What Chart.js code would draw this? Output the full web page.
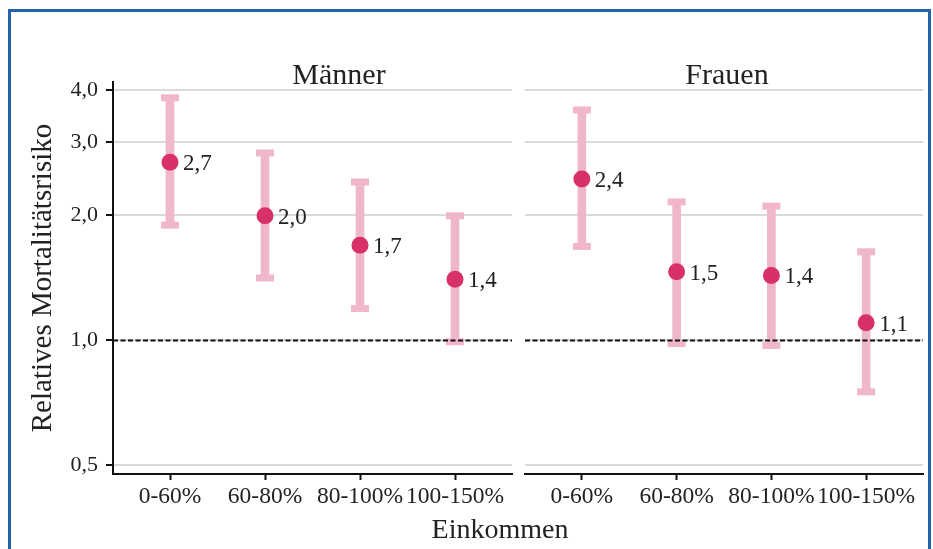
<!DOCTYPE html>
<html>
<head>
<meta charset="utf-8">
<script src="https://cdn.jsdelivr.net/npm/chart.js@4"></script>
<style>
  html, body { margin: 0; padding: 0; background: #fff; }
  #wrap { position: relative; width: 933px; height: 549px; overflow: hidden; background: #fff;
          font-family: 'Liberation Serif', serif; color: #222; }
  .panel { position: absolute; top: 0; height: 549px; }
  .label { position: absolute; transform: translate(-50%, -50%); font-size: 28px; line-height: 1; white-space: nowrap; }
  .strip { font-size: 30px; }
  .frame { position: absolute; left: 8px; top: 9px; width: 917px; height: 600px;
           border: 3px solid #2462ad; pointer-events: none; }
</style>
</head>
<body>
<div id="wrap">
  <div class="panel" style="left:0;width:520px"><canvas id="menChart" width="520" height="549"></canvas></div>
  <div class="panel" style="left:520px;width:413px"><canvas id="womenChart" width="413" height="549"></canvas></div>
  <div class="label strip" style="left:339px;top:74px">Männer</div>
  <div class="label strip" style="left:727px;top:74px">Frauen</div>
  <div class="label" style="left:500px;top:529px">Einkommen</div>
  <div class="frame"></div>
</div>
<script>
// ── data ────────────────────────────────────────────────
const incomeGroups = ['0-60%', '60-80%', '80-100%', '100-150%'];
const yTicks = [0.5, 1, 2, 3, 4];
const refValue = 1;

const menRR    = [2.68, 1.99, 1.69, 1.40];
const menLower = [1.89, 1.41, 1.19, 0.99];
const menUpper = [3.83, 2.82, 2.40, 1.99];

const womenRR    = [2.44, 1.46, 1.43, 1.10];
const womenLower = [1.68, 0.98, 0.97, 0.75];
const womenUpper = [3.58, 2.15, 2.10, 1.63];

// ── styling ─────────────────────────────────────────────
const barPink = '#f0b7c8';
const dotColor = '#d8306b';
const textColor = '#222';
const serif = "'Liberation Serif', serif";

Chart.defaults.font.family = serif;
Chart.defaults.color = textColor;

const fmt = v => v.toFixed(1).replace('.', ',');

// dashed reference line at RR = 1
const refLinePlugin = {
  id: 'refLine',
  afterDatasetsDraw(chart) {
    const { ctx, chartArea, scales } = chart;
    const y = Math.round(scales.y.getPixelForValue(refValue)) + 0.5;
    ctx.save();
    ctx.strokeStyle = '#111';
    ctx.lineWidth = 1.8;
    ctx.setLineDash([5, 2.5]);
    ctx.beginPath();
    ctx.moveTo(chartArea.left, y);
    ctx.lineTo(chartArea.right, y);
    ctx.stroke();
    ctx.restore();
  }
};

// value labels to the right of the estimate points
const valueLabelPlugin = {
  id: 'valueLabels',
  afterDatasetsDraw(chart) {
    const { ctx } = chart;
    const ds = chart.data.datasets[2];
    const meta = chart.getDatasetMeta(2);
    ctx.save();
    ctx.font = '23px ' + serif;
    ctx.fillStyle = textColor;
    ctx.textAlign = 'left';
    ctx.textBaseline = 'middle';
    meta.data.forEach((pt, i) => {
      ctx.fillText(fmt(ds.data[i].y), pt.x + 13, pt.y + 2);
    });
    ctx.restore();
  }
};

function makeDatasets(rr, lower, upper) {
  const caps = lower.map((v, i) => ({ x: i, y: v }))
    .concat(upper.map((v, i) => ({ x: i, y: v })));
  return [
    {
      type: 'bar',
      data: rr.map((_, i) => ({ x: i, y: [lower[i], upper[i]] })),
      backgroundColor: barPink,
      barThickness: 8,
      order: 3
    },
    {
      type: 'scatter',
      data: caps,
      pointStyle: 'line',
      pointRadius: 9,
      pointBorderWidth: 7,
      pointBorderColor: barPink,
      order: 2
    },
    {
      type: 'scatter',
      data: rr.map((v, i) => ({ x: i, y: v })),
      pointRadius: 8.5,
      pointBackgroundColor: dotColor,
      pointBorderWidth: 0,
      order: 1
    }
  ];
}

function makeChart(canvasId, rr, lower, upper, isLeft) {
  const ctx = document.getElementById(canvasId).getContext('2d');
  return new Chart(ctx, {
    type: 'bar',
    data: { datasets: makeDatasets(rr, lower, upper) },
    options: {
      responsive: false,
      animation: false,
      layout: {
        autoPadding: false,
        padding: isLeft ? { left: 0, right: 8, top: 82, bottom: 0 }
                        : { left: 5, right: 10, top: 82, bottom: 0 }
      },
      plugins: {
        legend: { display: false },
        tooltip: { enabled: false }
      },
      scales: {
        x: {
          type: 'linear',
          offset: false,
          min: -0.6,
          max: 3.6,
          afterBuildTicks: s => { s.ticks = incomeGroups.map((_, i) => ({ value: i })); },
          afterFit: s => { s.height = 75; },
          ticks: {
            autoSkip: false,
            maxRotation: 0,
            padding: 3,
            font: { size: 23.5 },
            color: textColor,
            callback: v => incomeGroups[v]
          },
          grid: {
            offset: false,
            drawOnChartArea: false,
            tickLength: 6,
            tickColor: '#111',
            tickWidth: 2
          },
          border: { color: '#111', width: 2 }
        },
        y: {
          type: 'logarithmic',
          min: 0.4755,
          max: 4.18,
          afterBuildTicks: s => { s.ticks = yTicks.map(v => ({ value: v })); },
          afterFit: s => { s.width = isLeft ? 113 : 0; },
          ticks: {
            display: isLeft,
            autoSkip: false,
            padding: 8,
            font: { size: 22 },
            color: textColor,
            callback: v => fmt(v)
          },
          grid: {
            color: '#dadada',
            lineWidth: 2,
            drawTicks: isLeft,
            tickLength: 7,
            tickColor: '#111',
            tickWidth: 2
          },
          border: { display: isLeft, color: '#111', width: 2 },
          title: {
            display: isLeft,
            text: 'Relatives Mortalitätsrisiko',
            font: { size: 29 },
            color: textColor,
            padding: { top: 26, bottom: 0 }
          }
        }
      }
    },
    plugins: [refLinePlugin, valueLabelPlugin]
  });
}

makeChart('menChart', menRR, menLower, menUpper, true);
makeChart('womenChart', womenRR, womenLower, womenUpper, false);
</script>
</body>
</html>
